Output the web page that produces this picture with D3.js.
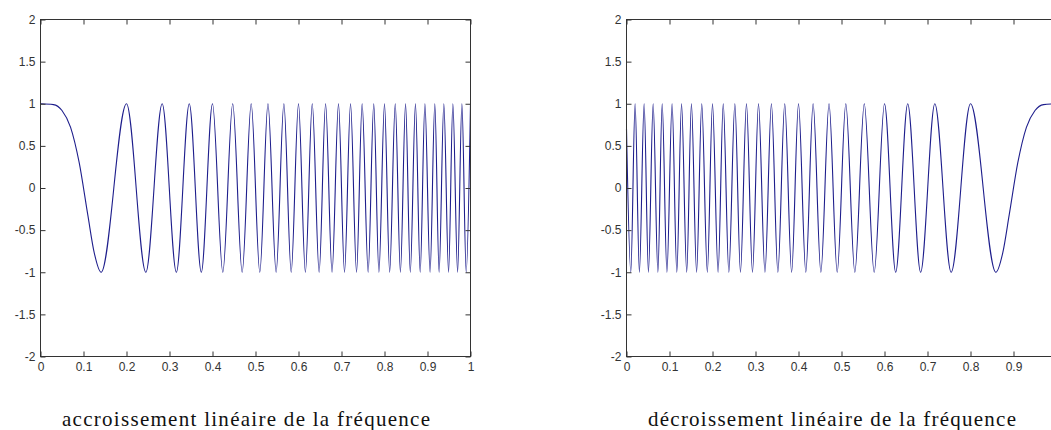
<!DOCTYPE html>
<html>
<head>
<meta charset="utf-8">
<script src="https://cdn.jsdelivr.net/npm/d3@7"></script>
<style>
  body { margin: 0; background: #fff; }
  .tick text { font-family: "Liberation Sans", Arial, sans-serif; font-size: 12px; fill: #333; }
  .caption { font-family: "Liberation Serif", "Times New Roman", serif; font-size: 21px; fill: #111; }
</style>
</head>
<body>
<div class="chart"></div>
<script>
// tick values and labels
var xTicks = [0, 0.1, 0.2, 0.3, 0.4, 0.5, 0.6, 0.7, 0.8, 0.9, 1];
var xTickLabels = ["0", "0.1", "0.2", "0.3", "0.4", "0.5", "0.6", "0.7", "0.8", "0.9", "1"];
var yTicks = [-2, -1.5, -1, -0.5, 0, 0.5, 1, 1.5, 2];
var yTickLabels = ["-2", "-1.5", "-1", "-0.5", "0", "0.5", "1", "1.5", "2"];

var captions = ["accroissement linéaire de la fréquence", "décroissement linéaire de la fréquence"];

// left panel: times of the maxima (+1) and minima (-1)
var leftPeakT = [0, 0.200, 0.283, 0.346, 0.400, 0.447, 0.490, 0.529, 0.566, 0.600, 0.632, 0.663, 0.693,
    0.721, 0.748, 0.775, 0.800, 0.825, 0.849, 0.872, 0.894, 0.917, 0.938, 0.959, 0.980, 1.000];
var leftTroughT = [0.141, 0.245, 0.316, 0.374, 0.424, 0.469, 0.510, 0.548, 0.583, 0.616, 0.648, 0.678,
    0.707, 0.735, 0.762, 0.787, 0.812, 0.837, 0.860, 0.883, 0.906, 0.927, 0.949, 0.970, 0.990];
// the slow first lobe
var leftLobeT = [0.03, 0.05, 0.07, 0.09, 0.11, 0.125];
var leftLobeY = [0.99, 0.92, 0.72, 0.30, -0.32, -0.77];

// right panel
var rightPeakT = [0.020, 0.041, 0.062, 0.083, 0.106, 0.128, 0.151, 0.175, 0.200, 0.225, 0.252, 0.279,
    0.307, 0.337, 0.368, 0.400, 0.434, 0.471, 0.510, 0.553, 0.600, 0.654, 0.717, 0.800, 1.000];
var rightTroughT = [0.010, 0.030, 0.051, 0.073, 0.094, 0.117, 0.140, 0.163, 0.188, 0.213, 0.238, 0.265,
    0.293, 0.322, 0.352, 0.384, 0.417, 0.452, 0.490, 0.531, 0.576, 0.626, 0.684, 0.755, 0.859];
var rightLobeT = [0, 0.875, 0.89, 0.91, 0.93, 0.95, 0.97];
var rightLobeY = [0.7, -0.77, -0.32, 0.30, 0.72, 0.92, 0.99];

var svgWidth = 1051;
var svgHeight = 430;

var svg = d3.select(".chart")
    .append("svg")
    .attr("width", svgWidth)
    .attr("height", svgHeight);

var panels = [
    { left: 40.5, right: 470.5, peaks: leftPeakT, troughs: leftTroughT, lobeT: leftLobeT, lobeY: leftLobeY, caption: captions[0] },
    { left: 626.5, right: 1056.5, peaks: rightPeakT, troughs: rightTroughT, lobeT: rightLobeT, lobeY: rightLobeY, caption: captions[1] }
];
var plotTop = 19.5, plotBottom = 356.5;

panels.forEach(function(p) {
    var pts = [];
    p.peaks.forEach(function(t) { pts.push({ t: t, v: 1 }); });
    p.troughs.forEach(function(t) { pts.push({ t: t, v: -1 }); });
    p.lobeT.forEach(function(t, i) { pts.push({ t: t, v: p.lobeY[i] }); });
    pts.sort(function(a, b) { return a.t - b.t; });

    var x = d3.scaleLinear().domain([0, 1]).range([p.left, p.right]);
    var y = d3.scaleLinear().domain([-2, 2]).range([plotBottom, plotTop]);

    var g = svg.append("g");

    var line = d3.line()
        .x(d => x(d.t))
        .y(d => y(d.v))
        .curve(d3.curveMonotoneX);

    g.append("path")
        .datum(pts)
        .attr("d", line)
        .attr("fill", "none")
        .attr("stroke", "#1e1e8c")
        .attr("stroke-width", 1.1);

    // box
    g.append("rect")
        .attr("x", p.left).attr("y", plotTop)
        .attr("width", p.right - p.left).attr("height", plotBottom - plotTop)
        .attr("fill", "none").attr("stroke", "#333").attr("stroke-width", 1);

    // axes, ticks pointing inward
    var axB = g.append("g").attr("transform", `translate(0, ${plotBottom})`)
        .call(d3.axisBottom(x).tickValues(xTicks).tickFormat((d, i) => xTickLabels[i]).tickSize(-5).tickSizeOuter(0).tickPadding(6));
    var axT = g.append("g").attr("transform", `translate(0, ${plotTop})`)
        .call(d3.axisTop(x).tickValues(xTicks).tickFormat("").tickSize(-5).tickSizeOuter(0));
    var axL = g.append("g").attr("transform", `translate(${p.left}, 0)`)
        .call(d3.axisLeft(y).tickValues(yTicks).tickFormat((d, i) => yTickLabels[i]).tickSize(-5).tickSizeOuter(0).tickPadding(5));
    var axR = g.append("g").attr("transform", `translate(${p.right}, 0)`)
        .call(d3.axisRight(y).tickValues(yTicks).tickFormat("").tickSize(-5).tickSizeOuter(0));

    [axB, axT, axL, axR].forEach(function(a) {
        a.select(".domain").remove();
        a.selectAll(".tick line").attr("stroke", "#333");
    });

    // labels that fall past the page edge are not in the picture
    axB.selectAll(".tick").filter(d => x(d) > svgWidth).select("text").remove();

    svg.append("text")
        .attr("class", "caption")
        .attr("x", (p.left + p.right) / 2 - 9.5)
        .attr("y", 426)
        .attr("text-anchor", "middle")
        .attr("textLength", 368)
        .attr("lengthAdjust", "spacing")
        .text(p.caption);
});
</script>
</body>
</html>
